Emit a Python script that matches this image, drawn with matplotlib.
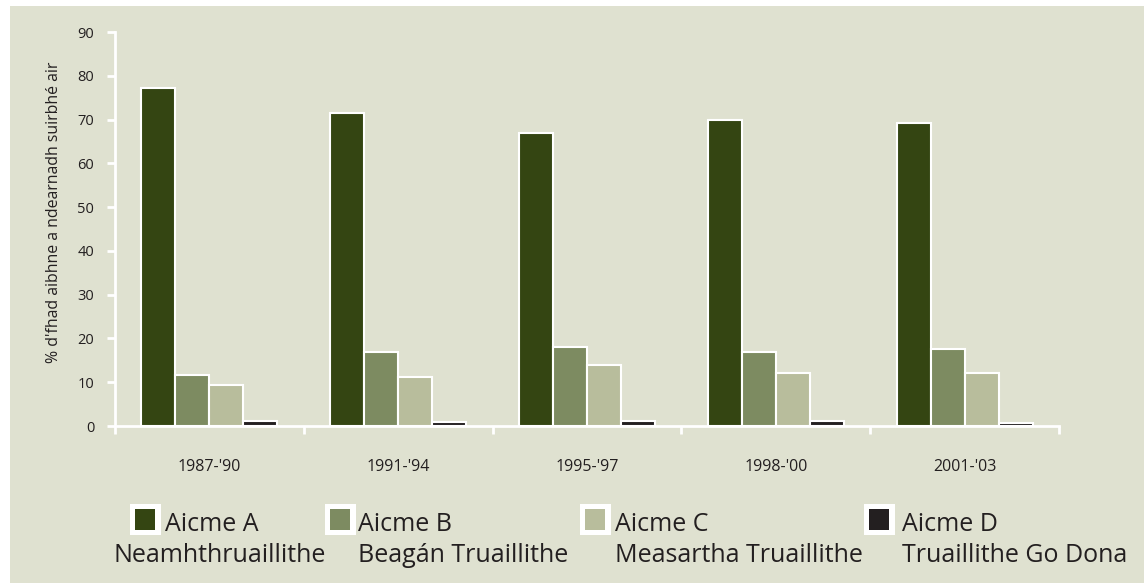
# river quality classes bar chart
import matplotlib.pyplot as plt
from matplotlib.patches import Rectangle
import numpy as np

periods = ["1987-'90", "1991-'94", "1995-'97", "1998-'00", "2001-'03"]
class_a = [77.1, 71.4, 66.9, 69.8, 69.3]
class_b = [11.7, 16.8, 18.0, 16.8, 17.5]
class_c = [9.4, 11.2, 13.9, 12.2, 12.2]
class_d = [1.2, 0.8, 1.2, 1.2, 0.7]
names = ["Aicme A", "Aicme B", "Aicme C", "Aicme D"]
subnames = ["Neamhthruaillithe", "Beagán Truaillithe", "Measartha Truaillithe", "Truaillithe Go Dona"]
colors = ['#344512', '#7d8b61', '#b8bd9c', '#231f20']
bg = '#dfe1d0'

plt.rcParams['font.family'] = ['Open Sans', 'DejaVu Sans']

W, H = 1144, 583
fig = plt.figure(figsize=(W / 100, H / 100), dpi=100, facecolor='white')
# coloured panel (white strip on the top and left)
fig.patches.append(Rectangle((10 / W, 0), 1, 1 - 6 / H, transform=fig.transFigure,
                             facecolor=bg, edgecolor='none', zorder=-10))

ax = fig.add_axes([115 / W, (H - 426) / H, 944 / W, 394 / H])
ax.set_facecolor('none')

x = np.arange(len(periods))
w = 0.18
for i, vals in enumerate([class_a, class_b, class_c, class_d]):
    ax.bar(x + (i - 1.5) * w, vals, w, color=colors[i], edgecolor='white', linewidth=1.5, zorder=3)

ax.set_xlim(-0.5, 4.5)
ax.set_ylim(0, 90)
ax.set_yticks(range(0, 91, 10))
ax.set_xticks(np.arange(-0.5, 5, 1))
ax.set_xticklabels([])
ax.set_xticks(x, minor=True)
ax.set_xticklabels(periods, minor=True)

for s in ['top', 'right']:
    ax.spines[s].set_visible(False)
for s in ['left', 'bottom']:
    ax.spines[s].set_color('white')
    ax.spines[s].set_linewidth(2)
    ax.spines[s].set_zorder(2)

ax.tick_params(axis='both', which='major', color='white', width=2, length=6, labelsize=10.5,
               labelcolor='#231f20', direction='out')
ax.tick_params(axis='y', pad=9)
ax.tick_params(axis='x', which='minor', length=0, pad=24, labelsize=11.5, labelcolor='#231f20')

ax.set_ylabel("% d'fhad aibhne a ndearnadh suirbhé air", fontsize=11.4, color='#231f20')
ax.yaxis.set_label_coords(-53 / 944, (426 - 212) / 394)

# legend drawn by hand: white-framed swatch, two-line label
sw_x = [130, 325, 580, 864]
txt_x = [165, 358, 615, 902]
sub_x = [114, 358, 615, 902]
for i in range(4):
    fig.patches.append(Rectangle((sw_x[i] / W, (H - 535) / H), 31 / W, 31 / H,
                                 transform=fig.transFigure, facecolor='white', edgecolor='none'))
    fig.patches.append(Rectangle(((sw_x[i] + 5) / W, (H - 530) / H), 20 / W, 21 / H,
                                 transform=fig.transFigure, facecolor=colors[i], edgecolor='none'))
    fig.text(txt_x[i] / W, (H - 531) / H, names[i], fontsize=18, color='#231f20',
             ha='left', va='baseline')
    fig.text(sub_x[i] / W, (H - 562) / H, subnames[i], fontsize=18, color='#231f20',
             ha='left', va='baseline')

fig.savefig('out.png', dpi=100, facecolor='white')
